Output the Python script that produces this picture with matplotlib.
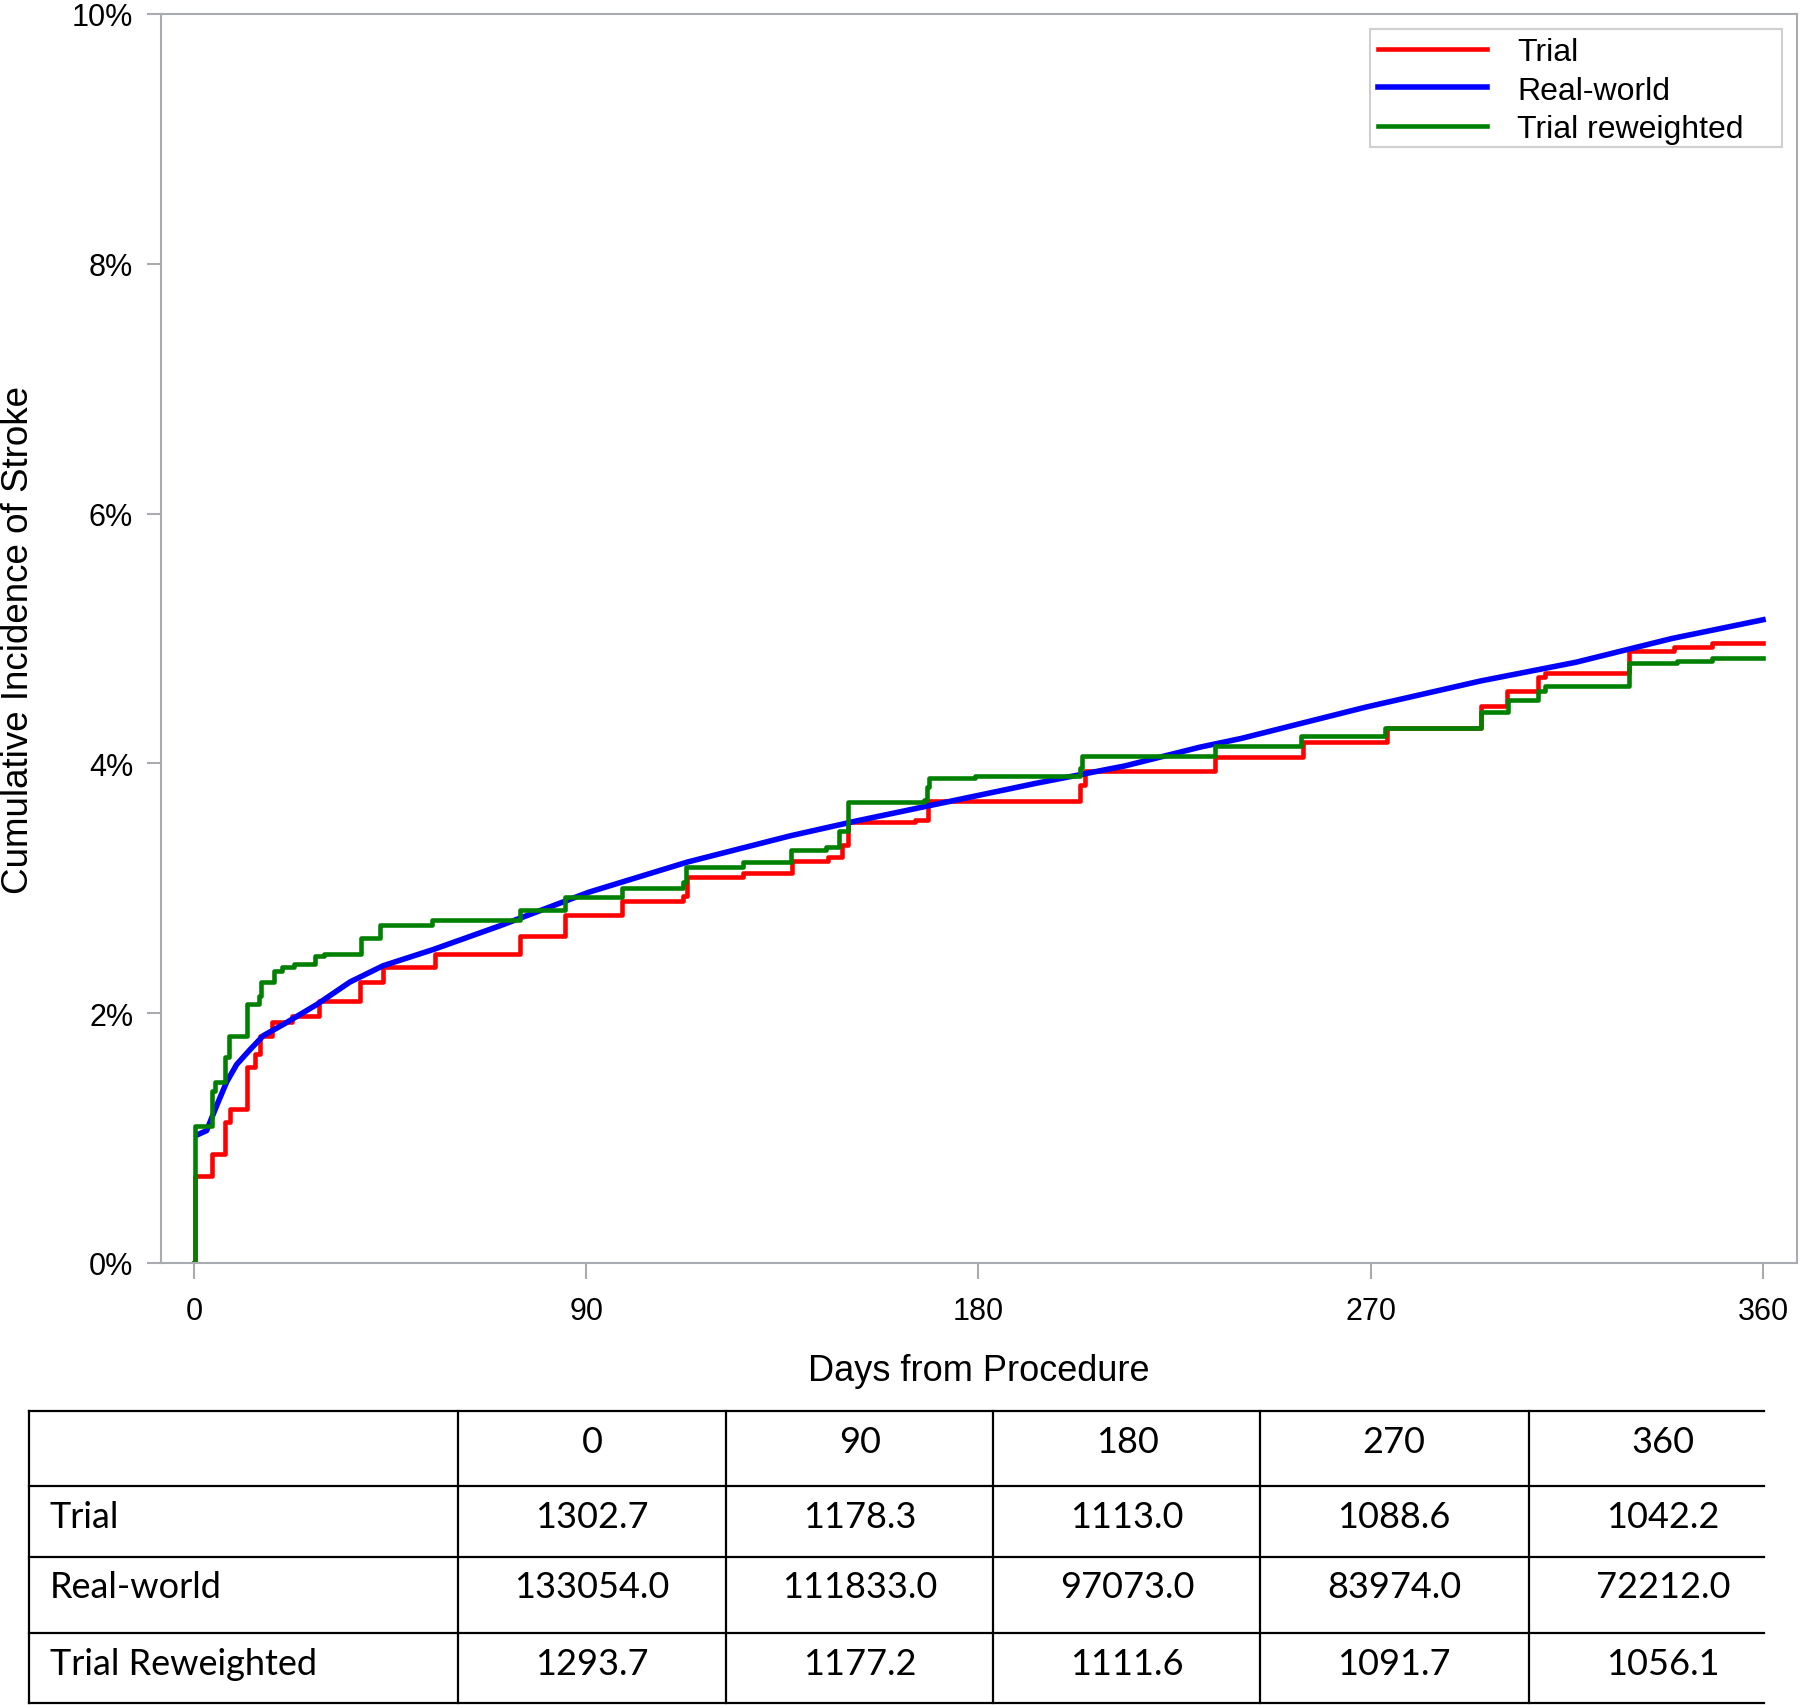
import numpy as np
import matplotlib.pyplot as plt
from matplotlib.patches import Rectangle

plt.rcParams['font.family'] = ['Liberation Sans', 'DejaVu Sans']

# Kaplan-Meier style step data (day, cumulative incidence in %)
trial_days = [0, 0.2, 4.1, 7.1, 8.2, 12.2, 14.0, 15.1, 17.8, 22.5, 28.6, 38.1, 43.4,
              55.3, 74.8, 85.1, 98.1, 112.2, 113.2, 126, 137.3, 145.5, 148.6, 150,
              165.4, 168.4, 203.3, 204.4, 234.3, 254.4, 273.8, 295.2, 301.2, 308.3,
              310, 329.2, 339.6, 348.4, 360]
trial_inc = [0, 0.70, 0.87, 1.13, 1.23, 1.57, 1.67, 1.82, 1.93, 1.98, 2.10, 2.25, 2.37,
             2.47, 2.62, 2.79, 2.90, 2.94, 3.09, 3.12, 3.22, 3.25, 3.35, 3.53,
             3.55, 3.70, 3.83, 3.94, 4.05, 4.17, 4.28, 4.46, 4.58, 4.69,
             4.72, 4.90, 4.93, 4.96, 4.96]

real_days = [1.0, 2.9, 5.2, 7.5, 9.8, 12.9, 15.9, 20.5, 28.2, 35.8, 43.4, 54.9, 70.2,
             90.7, 113.2, 136.8, 152.1, 172.6, 193.1, 213.6, 230.8, 240.3, 268.8,
             295.2, 317.1, 339.1, 360]
real_inc = [1.03, 1.06, 1.26, 1.45, 1.59, 1.71, 1.82, 1.91, 2.07, 2.25, 2.38, 2.51, 2.70,
            2.97, 3.21, 3.42, 3.54, 3.69, 3.84, 3.98, 4.13, 4.20, 4.45,
            4.66, 4.81, 5.00, 5.15]

rew_days = [0, 0.2, 4.1, 4.9, 7.0, 8.1, 12.2, 14.9, 15.3, 18.3, 20.2, 22.9, 27.8, 29.8,
            38.3, 42.7, 54.5, 74.8, 85.1, 98.1, 112.2, 112.8, 126, 137, 145, 148, 150,
            167.5, 168.2, 168.6, 179.3, 203.3, 203.8, 234.3, 254.1, 273.2, 295.2,
            301.5, 308.3, 310, 329.2, 340.2, 348.4, 360]
rew_inc = [0, 1.10, 1.38, 1.45, 1.65, 1.82, 2.07, 2.14, 2.25, 2.34, 2.37, 2.39, 2.46, 2.47,
           2.60, 2.71, 2.75, 2.83, 2.93, 3.00, 3.05, 3.17, 3.21, 3.31, 3.33, 3.46, 3.69,
           3.71, 3.81, 3.88, 3.90, 3.96, 4.06, 4.14, 4.22, 4.28, 4.41,
           4.51, 4.58, 4.62, 4.80, 4.82, 4.84, 4.84]

# numbers at risk table
col_labels = ['0', '90', '180', '270', '360']
row_labels = ['Trial', 'Real-world', 'Trial Reweighted']
trial_n = [1302.7, 1178.3, 1113.0, 1088.6, 1042.2]
real_n = [133054.0, 111833.0, 97073.0, 83974.0, 72212.0]
rew_n = [1293.7, 1177.2, 1111.6, 1091.7, 1056.1]

W, H = 1800, 1706
fig = plt.figure(figsize=(W / 100, H / 100), dpi=100)
ax = fig.add_axes([161 / W, 1 - 1264 / H, 1636 / W, 1249 / H])

gray = '#a8abb0'
ax.step(trial_days, trial_inc, where='post', color='#ff0000', lw=3.3, label='Trial')
ax.plot(real_days, real_inc, color='#0000ff', lw=4.0, label='Real-world')
ax.step(rew_days, rew_inc, where='post', color='#008000', lw=3.3, label='Trial reweighted')

ax.set_xlim(-7.57, 367.8)
ax.set_ylim(0, 10)
ax.set_xticks([0, 90, 180, 270, 360])
ax.set_yticks([0, 2, 4, 6, 8, 10])
ax.set_yticklabels(['0%', '2%', '4%', '6%', '8%', '10%'])
for s in ax.spines.values():
    s.set_color(gray)
    s.set_linewidth(1.5)
ax.tick_params(axis='y', length=10, width=1.5, color=gray, pad=10, labelsize=22)
ax.tick_params(axis='x', length=11.5, width=1.5, color=gray, pad=12, labelsize=22)

ax.set_xlabel('Days from Procedure', fontsize=26)
ax.xaxis.label.set_va('center')
ax.xaxis.set_label_coords(0.5, -(1372 - 1264) / 1249)
ax.set_ylabel('Cumulative Incidence of Stroke', fontsize=26.5)
ax.yaxis.label.set_va('center')
ax.yaxis.set_label_coords((19 - 161) / 1636, 0.5)

# legend frame drawn separately (wider right padding like the original)
lx0, lx1 = (1370 - 161) / 1636, (1782 - 161) / 1636
ly1, ly0 = 1 - (30 - 15) / 1249, 1 - (148 - 15) / 1249
ax.add_patch(Rectangle((lx0, ly0), lx1 - lx0, ly1 - ly0, transform=ax.transAxes,
                       facecolor='white', edgecolor='#cfcfcf', lw=1.5, zorder=4))
leg = ax.legend(loc='upper left', bbox_to_anchor=(lx0, ly1), borderaxespad=0,
                fontsize=23, handlelength=3.4, handletextpad=0.95,
                labelspacing=0.27, borderpad=0.25, frameon=False)
leg.set_zorder(5)

# table drawn in pixel coordinates
tab = fig.add_axes([0, 0, 1, 1])
tab.set_xlim(0, W)
tab.set_ylim(H, 0)
tab.axis('off')
tab.patch.set_alpha(0)

col_x = [29, 458, 726, 993, 1260, 1529]
row_y = [1412, 1487, 1558, 1634, 1704]
x_end = 1764
for y in row_y:
    tab.plot([col_x[0], x_end], [y, y], color='black', lw=1.6)
for x in col_x:
    tab.plot([x, x], [row_y[0], row_y[-1]], color='black', lw=1.6)

tfont = ['Lato', 'DejaVu Sans']
baselines = [1453, 1528, 1598, 1675]
for j, c in enumerate(col_labels):
    tab.text(col_x[j + 1] + 134, baselines[0], c, ha='center', va='baseline',
             fontsize=26, family=tfont)
for i, (lab, vals) in enumerate(zip(row_labels, [trial_n, real_n, rew_n])):
    tab.text(50, baselines[i + 1], lab, ha='left', va='baseline', fontsize=26, family=tfont)
    for j, v in enumerate(vals):
        tab.text(col_x[j + 1] + 134, baselines[i + 1], f'{v:.1f}', ha='center',
                 va='baseline', fontsize=26, family=tfont)

fig.savefig('out.png', dpi=100)
